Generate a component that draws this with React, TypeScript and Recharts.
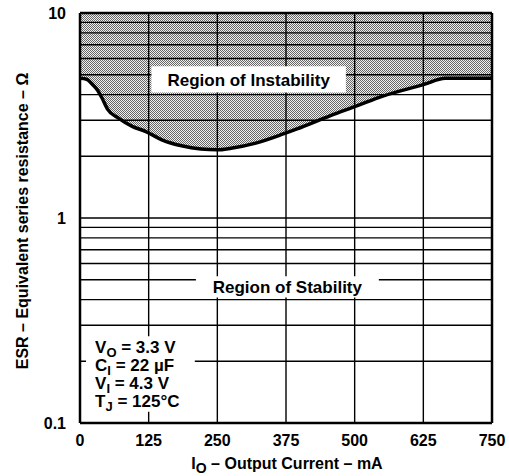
import React from 'react';
import {
  ComposedChart,
  Area,
  Line,
  XAxis,
  YAxis,
  ReferenceLine,
  ReferenceArea,
} from 'recharts';

// Output current (mA) along the stability boundary
const current = [0, 12, 22, 32, 40, 50, 70, 95, 120, 150, 185, 220, 250, 275, 320, 370, 395, 455, 505, 550, 625, 665, 750];
// Boundary ESR (ohm)
const esr = [4.8, 4.75, 4.5, 4.2, 3.85, 3.4, 3.07, 2.8, 2.64, 2.4, 2.25, 2.17, 2.15, 2.19, 2.32, 2.57, 2.72, 3.15, 3.53, 3.92, 4.47, 4.8, 4.8];

const xTicks = [0, 125, 250, 375, 500, 625, 750];
const yTicks = [0.1, 0.2, 0.3, 0.4, 0.5, 0.6, 0.7, 0.8, 0.9, 1, 2, 3, 4, 5, 6, 7, 8, 9, 10];
const yLabelTicks = [0.1, 1, 10];

const instabilityText = 'Region of Instability';
const stabilityText = 'Region of Stability';
const paramLines = [
  { main: 'V', sub: 'O', rest: ' = 3.3 V' },
  { main: 'C', sub: 'I', rest: ' = 22 \u00b5F' },
  { main: 'V', sub: 'I', rest: ' = 4.3 V' },
  { main: 'T', sub: 'J', rest: ' = 125\u00b0C' },
];

const X_MIN = xTicks[0];
const X_MAX = xTicks[xTicks.length - 1];
const Y_MIN = yTicks[0];
const Y_MAX = yTicks[yTicks.length - 1];

const data = current.map((c, i) => ({ current: c, esr: esr[i], band: [esr[i], Y_MAX] }));

const FONT = '"Liberation Sans", Arial, Helvetica, sans-serif';
const textStyle = { fontFamily: FONT, fontWeight: 700, fontSize: 16, fill: '#000' };
const boxTextStyle = { ...textStyle, fontSize: 17 };

const CenterText = (props: any) => {
  const { viewBox, text } = props;
  if (!viewBox) return null;
  const { x, y, width, height } = viewBox;
  return (
    <text x={x + width / 2} y={y + height / 2 + 1} textAnchor="middle" dominantBaseline="central" style={boxTextStyle}>
      {text}
    </text>
  );
};

const ParamText = (props: any) => {
  const { viewBox } = props;
  if (!viewBox) return null;
  const { x, y } = viewBox;
  return (
    <g>
      {paramLines.map((l, i) => (
        <text key={i} x={x + 9} y={y + 17 + i * 18} style={boxTextStyle}>
          {l.main}
          <tspan dy={4} fontSize={13}>{l.sub}</tspan>
          <tspan dy={-4}>{l.rest}</tspan>
        </text>
      ))}
    </g>
  );
};

const YLabel = (props: any) => {
  const { viewBox } = props;
  if (!viewBox) return null;
  const { x, y, height } = viewBox;
  const cx = x + 22;
  const cy = y + height / 2 + 3;
  return (
    <text x={cx} y={cy} transform={`rotate(-90 ${cx} ${cy})`} textAnchor="middle" dominantBaseline="central" style={textStyle}>
      ESR – Equivalent series resistance – Ω
    </text>
  );
};

const XLabel = (props: any) => {
  const { viewBox } = props;
  if (!viewBox) return null;
  const { x, y, width } = viewBox;
  return (
    <text x={x + width / 2 + 1} y={y + 46} textAnchor="middle" style={textStyle}>
      I
      <tspan dy={4} fontSize={14}>O</tspan>
      <tspan dy={-4}> – Output Current – mA</tspan>
    </text>
  );
};

export default function App() {
  return (
    <div style={{ position: 'absolute', left: 0, top: 0 }}>
      <ComposedChart width={509} height={476} data={data} margin={{ top: 13, right: 17, bottom: 0, left: 0 }}>
        <defs>
          <pattern id="halftone" width="2" height="2" patternUnits="userSpaceOnUse">
            <rect width="2" height="2" fill="#f0f0f0" />
            <rect width="1" height="1" fill="#666" />
            <rect x="1" y="1" width="1" height="1" fill="#666" />
          </pattern>
        </defs>
        <XAxis
          dataKey="current"
          type="number"
          domain={[X_MIN, X_MAX]}
          ticks={xTicks}
          height={53}
          axisLine={false}
          tickLine={false}
          tickMargin={6}
          tick={textStyle}
          label={<XLabel />}
        />
        <YAxis
          type="number"
          scale="log"
          domain={[Y_MIN, Y_MAX]}
          ticks={yTicks}
          allowDataOverflow
          width={80}
          axisLine={false}
          tickLine={false}
          tickMargin={8}
          tick={textStyle}
          interval={0}
          tickFormatter={(v: number) => (yLabelTicks.includes(v) ? String(v) : '')}
          label={<YLabel />}
        />
        <Area
          dataKey="band"
          type="monotone"
          fill="url(#halftone)"
          fillOpacity={1}
          stroke="none"
          isAnimationActive={false}
          zIndex={100}
        />
        {yTicks.slice(1, -1).map((v) => (
          <ReferenceLine key={'h' + v} y={v} stroke="#000" strokeWidth={1.4} zIndex={150} />
        ))}
        {xTicks.slice(1, -1).map((v) => (
          <ReferenceLine key={'v' + v} x={v} stroke="#000" strokeWidth={1.4} zIndex={150} />
        ))}
        <ReferenceArea x1={130} x2={484} y1={4.1} y2={5.5} fill="#fff" fillOpacity={1} stroke="none" zIndex={200} label={<CenterText text={instabilityText} />} />
        <ReferenceArea x1={211} x2={544} y1={0.41} y2={0.52} fill="#fff" fillOpacity={1} stroke="none" zIndex={200} label={<CenterText text={stabilityText} />} />
        <ReferenceArea x1={11} x2={209} y1={0.1135} y2={0.265} fill="#fff" fillOpacity={1} stroke="none" zIndex={200} label={<ParamText />} />
        <Line
          dataKey="esr"
          type="monotone"
          stroke="#000"
          strokeWidth={3.5}
          dot={false}
          activeDot={false}
          isAnimationActive={false}
          zIndex={300}
        />
        <ReferenceLine y={Y_MIN} stroke="#000" strokeWidth={2.5} zIndex={400} />
        <ReferenceLine y={Y_MAX} stroke="#000" strokeWidth={2.5} zIndex={400} />
        <ReferenceLine x={X_MIN} stroke="#000" strokeWidth={2.5} zIndex={400} />
        <ReferenceLine x={X_MAX} stroke="#000" strokeWidth={2.5} zIndex={400} />
      </ComposedChart>
    </div>
  );
}
